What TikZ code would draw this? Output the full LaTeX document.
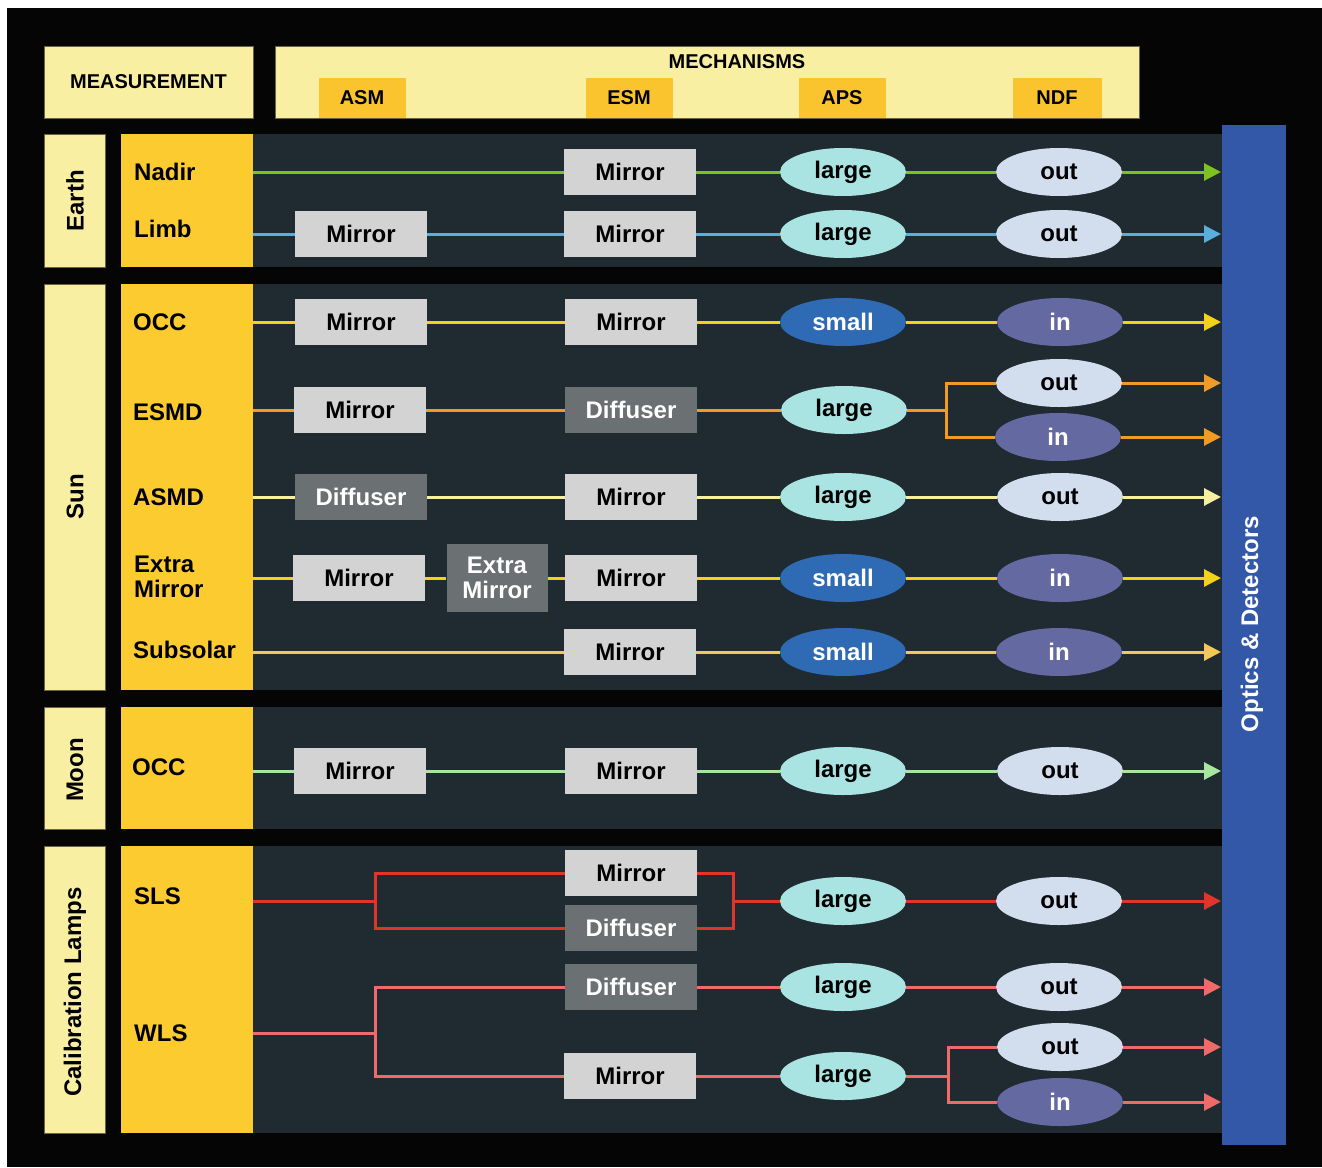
\documentclass[tikz,border=0pt]{standalone}
\usepackage{fontspec}
\setmainfont{Liberation Sans}
\usetikzlibrary{shapes.geometric,arrows.meta}
\definecolor{bgblack}{HTML}{050505}
\definecolor{pale}{HTML}{F9EFA3}
\definecolor{paleedge}{HTML}{6B6440}
\definecolor{hdr}{HTML}{FAC42E}
\definecolor{col}{HTML}{FBCB30}
\definecolor{band}{HTML}{1F2B30}
\definecolor{bluebar}{HTML}{3358A8}
\definecolor{boxlight}{HTML}{D3D3D3}
\definecolor{boxdark}{HTML}{6B7072}
\definecolor{clarge}{HTML}{A9E4E2}
\definecolor{csmall}{HTML}{2E6BB4}
\definecolor{cout}{HTML}{D2DDED}
\definecolor{cin}{HTML}{6569A2}
\definecolor{lnadir}{HTML}{7DC21E}
\definecolor{llimb}{HTML}{5AAEDB}
\definecolor{locc}{HTML}{F5D21A}
\definecolor{lesmd}{HTML}{F29A26}
\definecolor{lasmd}{HTML}{F6EFA0}
\definecolor{lextra}{HTML}{F2D21A}
\definecolor{lsub}{HTML}{F2C75C}
\definecolor{lmoon}{HTML}{A8E6A0}
\definecolor{lsls}{HTML}{E0352B}
\definecolor{lwls}{HTML}{F06A6A}
\tikzset{
  txt/.style={font=\bfseries\fontsize{24}{27}\selectfont},
  hdrtxt/.style={font=\bfseries\fontsize{20}{23}\selectfont},
  lbox/.style={rectangle, fill=boxlight, text=black, minimum width=132pt, minimum height=46pt, inner sep=0pt, txt},
  dbox/.style={lbox, fill=boxdark, text=white},
  ell/.style={ellipse, minimum width=126pt, minimum height=48pt, inner sep=0pt, txt},
  elarge/.style={ell, fill=clarge, text=black},
  esmall/.style={ell, fill=csmall, text=white},
  eout/.style={ell, fill=cout, text=black},
  ein/.style={ell, fill=cin, text=white},
  conn/.style={line width=3pt},
  arr/.style={conn, -{Triangle[length=17pt,width=17pt]}},
  rowlab/.style={anchor=west, align=left, inner sep=0pt, txt, text=black},
  grplab/.style={rotate=90, txt, text=black, inner sep=0pt},
}
\begin{document}
\begin{tikzpicture}[x=1pt,y=-1pt]
\useasboundingbox (0,0) rectangle (1322,1167);
\fill[white] (0,0) rectangle (1322,1167);
\fill[bgblack] (7,8) rectangle (1322,1167);
% header
\node[draw=paleedge, line width=0.8pt, fill=pale, minimum width=209pt, minimum height=72pt, inner sep=0pt, hdrtxt] (meas) at (148.5,82) {MEASUREMENT};
\node[draw=paleedge, line width=0.8pt, fill=pale, minimum width=864pt, minimum height=72pt, inner sep=0pt] (mech) at (707,82) {};
\node[hdrtxt] (mecht) at (737,62) {MECHANISMS};
\node[fill=hdr, minimum width=87pt, minimum height=40pt, inner sep=0pt, hdrtxt] (hasm) at (362,98) {ASM};
\node[fill=hdr, minimum width=87pt, minimum height=40pt, inner sep=0pt, hdrtxt] (hesm) at (629,98) {ESM};
\node[fill=hdr, minimum width=87pt, minimum height=40pt, inner sep=0pt, hdrtxt] (haps) at (842,98) {APS};
\node[fill=hdr, minimum width=89pt, minimum height=40pt, inner sep=0pt, hdrtxt] (hndf) at (1057,98) {NDF};
% group bands
\foreach \ya/\yb in {134/267, 284/690, 707/829, 846/1133}{
  \fill[pale] (44,\ya) rectangle (105,\yb);
  \draw[paleedge, line width=0.6pt] (44,\ya) rectangle (105,\yb);
  \fill[col] (121,\ya) rectangle (253,\yb);
  \fill[band] (253,\ya) rectangle (1222,\yb);
}
\fill[bluebar] (1222,125) rectangle (1286,1145);
\node[rotate=90, txt, text=white, inner sep=0pt] (optics) at (1252,624) {Optics \& Detectors};
% group labels
\node[grplab] (gearth) at (75,201) {Earth};
\node[grplab] (gsun) at (75,497) {Sun};
\node[grplab] (gmoon) at (75,770) {Moon};
\node[grplab] (gcal) at (75,992) {Calibration Lamps};
% row labels
\node[rowlab] (rnadir) at (134,172) {Nadir};
\node[rowlab] (rlimb) at (134,229) {Limb};
\node[rowlab] (rocc) at (133,322) {OCC};
\node[rowlab] (resmd) at (133,412) {ESMD};
\node[rowlab] (rasmd) at (133,497) {ASMD};
\node[rowlab] (rextra) at (134,577) {Extra\\[-2pt]Mirror};
\node[rowlab] (rsub) at (133,650) {Subsolar};
\node[rowlab] (rmocc) at (132,767) {OCC};
\node[rowlab] (rsls) at (134,896) {SLS};
\node[rowlab] (rwls) at (134,1033) {WLS};
% ---- Earth: Nadir
\coordinate (naS) at (253,172); \coordinate (naE) at (1221,172);
\node[lbox] (naM) at (630,172) {Mirror};
\node[elarge] (naA) at (843,172) {large};
\node[eout] (naN) at (1059,172) {out};
\draw[conn, lnadir] (naS) -- (naM) -- (naA) -- (naN);
\draw[arr, lnadir] (naN) -- (naE);
% ---- Limb
\coordinate (liS) at (253,234); \coordinate (liE) at (1221,234);
\node[lbox] (liM1) at (361,234) {Mirror};
\node[lbox] (liM2) at (630,234) {Mirror};
\node[elarge] (liA) at (843,234) {large};
\node[eout] (liN) at (1059,234) {out};
\draw[conn, llimb] (liS) -- (liM1) -- (liM2) -- (liA) -- (liN);
\draw[arr, llimb] (liN) -- (liE);
% ---- Sun OCC
\coordinate (ocS) at (253,322); \coordinate (ocE) at (1221,322);
\node[lbox] (ocM1) at (361,322) {Mirror};
\node[lbox] (ocM2) at (631,322) {Mirror};
\node[esmall] (ocA) at (843,322) {small};
\node[ein] (ocN) at (1060,322) {in};
\draw[conn, locc] (ocS) -- (ocM1) -- (ocM2) -- (ocA) -- (ocN);
\draw[arr, locc] (ocN) -- (ocE);
% ---- ESMD
\coordinate (esS) at (253,410); \coordinate (esB) at (946,410);
\coordinate (esE1) at (1221,383); \coordinate (esE2) at (1221,437);
\node[lbox] (esM) at (360,410) {Mirror};
\node[dbox] (esD) at (631,410) {Diffuser};
\node[elarge] (esA) at (844,410) {large};
\node[eout] (esO) at (1059,383) {out};
\node[ein] (esI) at (1058,437) {in};
\draw[conn, lesmd] (esS) -- (esM) -- (esD) -- (esA) -- (esB);
\draw[conn, lesmd] (esB) |- (esO);
\draw[conn, lesmd] (esB) |- (esI);
\draw[arr, lesmd] (esO) -- (esE1);
\draw[arr, lesmd] (esI) -- (esE2);
% ---- ASMD
\coordinate (asS) at (253,497); \coordinate (asE) at (1221,497);
\node[dbox] (asD) at (361,497) {Diffuser};
\node[lbox] (asM) at (631,497) {Mirror};
\node[elarge] (asA) at (843,497) {large};
\node[eout] (asN) at (1060,497) {out};
\draw[conn, lasmd] (asS) -- (asD) -- (asM) -- (asA) -- (asN);
\draw[arr, lasmd] (asN) -- (asE);
% ---- Extra Mirror
\coordinate (exS) at (253,578); \coordinate (exE) at (1221,578);
\node[lbox] (exM1) at (359,578) {Mirror};
\node[dbox, minimum width=101pt, minimum height=68pt, align=center] (exX) at (497,578) {Extra\\[-2pt]Mirror};
\node[lbox] (exM2) at (631,578) {Mirror};
\node[esmall] (exA) at (843,578) {small};
\node[ein] (exN) at (1060,578) {in};
\draw[conn, lextra] (exS) -- (exM1) -- (exX) -- (exM2) -- (exA) -- (exN);
\draw[arr, lextra] (exN) -- (exE);
% ---- Subsolar
\coordinate (suS) at (253,652); \coordinate (suE) at (1221,652);
\node[lbox] (suM) at (630,652) {Mirror};
\node[esmall] (suA) at (843,652) {small};
\node[ein] (suN) at (1059,652) {in};
\draw[conn, lsub] (suS) -- (suM) -- (suA) -- (suN);
\draw[arr, lsub] (suN) -- (suE);
% ---- Moon OCC
\coordinate (moS) at (253,771); \coordinate (moE) at (1221,771);
\node[lbox] (moM1) at (360,771) {Mirror};
\node[lbox] (moM2) at (631,771) {Mirror};
\node[elarge] (moA) at (843,771) {large};
\node[eout] (moN) at (1060,771) {out};
\draw[conn, lmoon] (moS) -- (moM1) -- (moM2) -- (moA) -- (moN);
\draw[arr, lmoon] (moN) -- (moE);
% ---- SLS
\coordinate (slS) at (253,901); \coordinate (slB1) at (375,901);
\coordinate (slB2) at (733,901); \coordinate (slE) at (1221,901);
\node[lbox] (slM) at (631,873) {Mirror};
\node[dbox] (slD) at (631,928) {Diffuser};
\node[elarge] (slA) at (843,901) {large};
\node[eout] (slN) at (1059,901) {out};
\draw[conn, lsls] (slS) -- (slB1);
\draw[conn, lsls] (slB1) |- (slM);
\draw[conn, lsls] (slB1) |- (slD);
\draw[conn, lsls] (slM) -| (slB2);
\draw[conn, lsls] (slD) -| (slB2);
\draw[conn, lsls] (slB2) -- (slA) -- (slN);
\draw[arr, lsls] (slN) -- (slE);
% ---- WLS
\coordinate (wlS) at (253,1033); \coordinate (wlB1) at (375,1033);
\coordinate (wlB2) at (948,1076);
\coordinate (wlE1) at (1221,987); \coordinate (wlE2) at (1221,1047); \coordinate (wlE3) at (1221,1102);
\node[dbox] (wlD) at (631,987) {Diffuser};
\node[elarge] (wlA1) at (843,987) {large};
\node[eout] (wlN1) at (1059,987) {out};
\node[lbox] (wlM) at (630,1076) {Mirror};
\node[elarge] (wlA2) at (843,1076) {large};
\node[eout] (wlN2) at (1060,1047) {out};
\node[ein] (wlN3) at (1060,1102) {in};
\draw[conn, lwls] (wlS) -- (wlB1);
\draw[conn, lwls] (wlB1) |- (wlD);
\draw[conn, lwls] (wlB1) |- (wlM);
\draw[conn, lwls] (wlD) -- (wlA1) -- (wlN1);
\draw[arr, lwls] (wlN1) -- (wlE1);
\draw[conn, lwls] (wlM) -- (wlA2) -- (wlB2);
\draw[conn, lwls] (wlB2) |- (wlN2);
\draw[conn, lwls] (wlB2) |- (wlN3);
\draw[arr, lwls] (wlN2) -- (wlE2);
\draw[arr, lwls] (wlN3) -- (wlE3);
\end{tikzpicture}
\end{document}
